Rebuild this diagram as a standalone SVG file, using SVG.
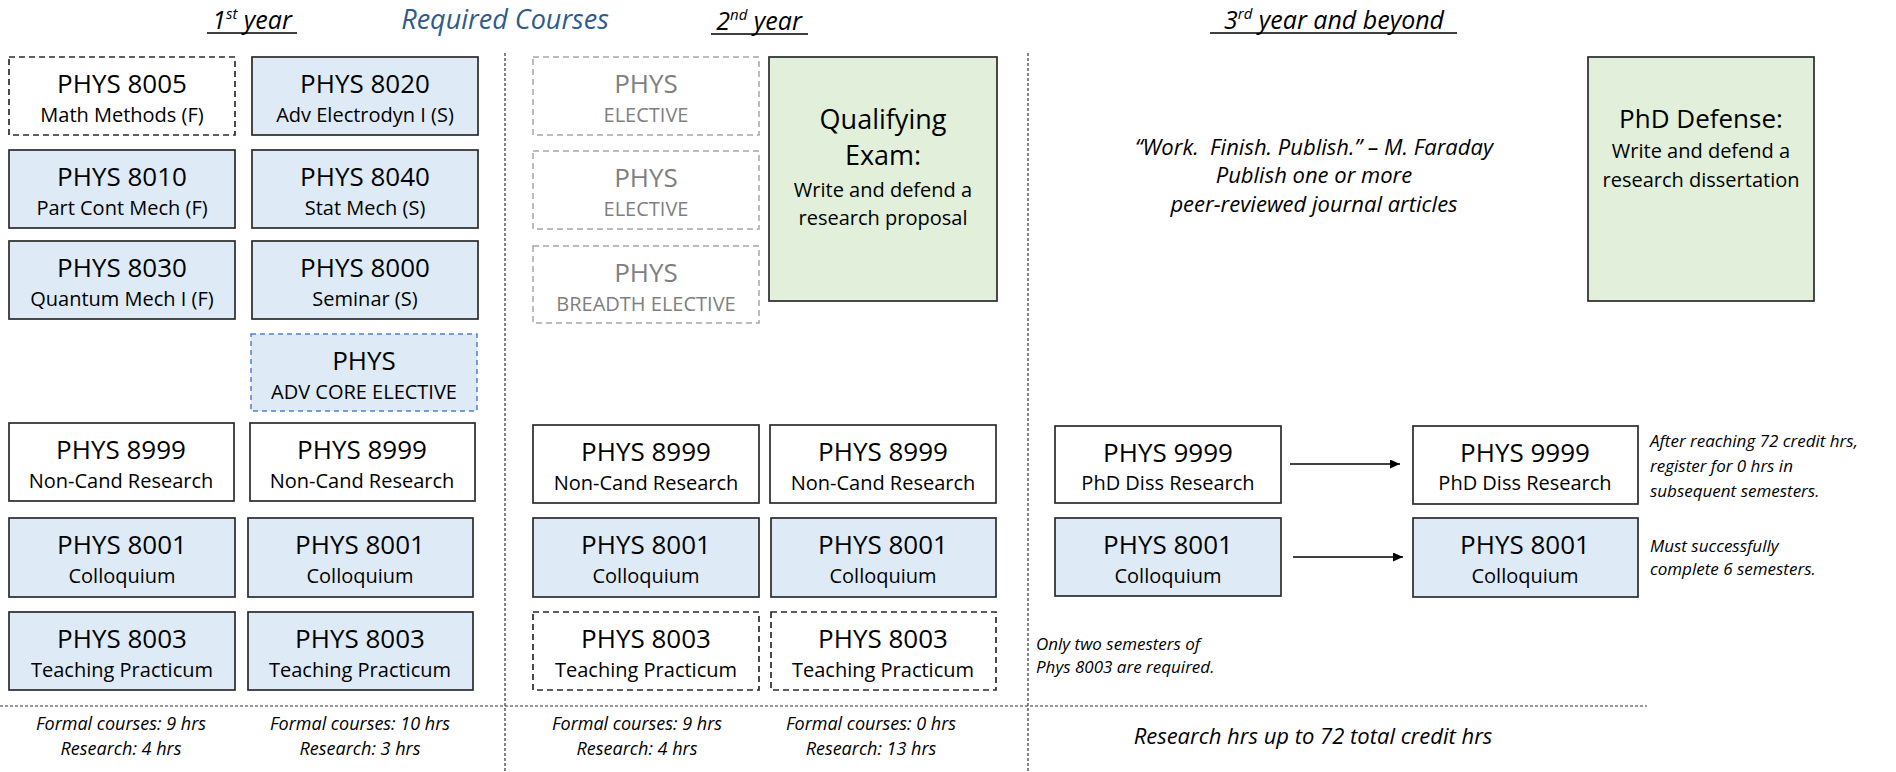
<svg xmlns="http://www.w3.org/2000/svg" width="1896" height="772" viewBox="0 0 1896 772">
<style>
text{font-family:"Open Sans","Noto Sans","Liberation Sans",sans-serif;fill:#000}
.t{font-size:26px;text-anchor:middle}
.q{font-size:27px;text-anchor:middle}
.s{font-size:20px;text-anchor:middle}
.g{fill:#7F7F7F}
.quote{font-size:22px;font-style:italic;text-anchor:middle}
.hd{font-size:25px;font-style:italic;text-anchor:middle}
.rc{font-size:27px;font-style:italic;text-anchor:middle;fill:#2E5A8C}
.sup{font-size:15px}
.note{font-size:17px;font-style:italic}
.bot{font-size:18px;font-style:italic;text-anchor:middle}
.bot2{font-size:22px;font-style:italic;text-anchor:middle}
.box{stroke:#2B2B2B;stroke-width:1.7}
.blue{fill:#DEEBF7}
.white{fill:#fff}
.green{fill:#E2EFDA}
.dash{stroke-dasharray:6 4}
.gdash{fill:#fff;stroke:#A6A6A6;stroke-width:1.5;stroke-dasharray:6 4}
.bdash{fill:#DEEBF7;stroke:#4F81D0;stroke-width:1.5;stroke-dasharray:5 4}
.sep{stroke:#333;stroke-width:1.2;stroke-dasharray:3 2;fill:none}
.ul{stroke:#000;stroke-width:1.6}
.conn{stroke:#000;stroke-width:1.5;fill:none}
</style>
<defs>
<marker id="arr" markerUnits="userSpaceOnUse" markerWidth="11" markerHeight="9" refX="10" refY="4.5" orient="auto">
<path d="M0,0 L10,4.5 L0,9 z" fill="#000"/>
</marker>
</defs>

<g id="headers">
<text class="hd" x="252" y="29">1<tspan class="sup" dy="-10">st</tspan><tspan dy="10"> year</tspan></text>
<line class="ul" x1="207" y1="33" x2="297" y2="33"/>
<text class="rc" x="505" y="29">Required Courses</text>
<text class="hd" x="759" y="30">2<tspan class="sup" dy="-10">nd</tspan><tspan dy="10"> year</tspan></text>
<line class="ul" x1="711" y1="34" x2="808" y2="34"/>
<text class="hd" x="1334" y="29">3<tspan class="sup" dy="-10">rd</tspan><tspan dy="10"> year and beyond</tspan></text>
<line class="ul" x1="1210" y1="33" x2="1457" y2="33"/>
</g>

<g id="separators">
<line class="sep" x1="505" y1="53" x2="505" y2="772"/>
<line class="sep" x1="1028" y1="53" x2="1028" y2="772"/>
<line class="sep" x1="0" y1="706" x2="1647" y2="706"/>
</g>

<g id="phys8005"><rect class="box white dash" x="9" y="57" width="226" height="78"/><text class="t" x="122" y="93">PHYS 8005</text><text class="s" x="122" y="122">Math Methods (F)</text></g>
<g id="phys8020"><rect class="box blue" x="252" y="57" width="226" height="78"/><text class="t" x="365" y="93">PHYS 8020</text><text class="s" x="365" y="122">Adv Electrodyn I (S)</text></g>
<g id="phys8010"><rect class="box blue" x="9" y="150" width="226" height="78"/><text class="t" x="122" y="186">PHYS 8010</text><text class="s" x="122" y="215">Part Cont Mech (F)</text></g>
<g id="phys8040"><rect class="box blue" x="252" y="150" width="226" height="78"/><text class="t" x="365" y="186">PHYS 8040</text><text class="s" x="365" y="215">Stat Mech (S)</text></g>
<g id="phys8030"><rect class="box blue" x="9" y="241" width="226" height="78"/><text class="t" x="122" y="277">PHYS 8030</text><text class="s" x="122" y="306">Quantum Mech I (F)</text></g>
<g id="phys8000"><rect class="box blue" x="252" y="241" width="226" height="78"/><text class="t" x="365" y="277">PHYS 8000</text><text class="s" x="365" y="306">Seminar (S)</text></g>
<g id="advcore"><rect class="bdash" x="251" y="334" width="226" height="77"/><text class="t" x="364" y="370">PHYS</text><text class="s" x="364" y="399">ADV CORE ELECTIVE</text></g>
<g id="y1s1-8999"><rect class="box white" x="9" y="423" width="225" height="78"/><text class="t" x="121" y="459">PHYS 8999</text><text class="s" x="121" y="488">Non-Cand Research</text></g>
<g id="y1s2-8999"><rect class="box white" x="250" y="423" width="225" height="78"/><text class="t" x="362" y="459">PHYS 8999</text><text class="s" x="362" y="488">Non-Cand Research</text></g>
<g id="y1s1-8001"><rect class="box blue" x="9" y="518" width="226" height="79"/><text class="t" x="122" y="554">PHYS 8001</text><text class="s" x="122" y="583">Colloquium</text></g>
<g id="y1s2-8001"><rect class="box blue" x="248" y="518" width="225" height="79"/><text class="t" x="360" y="554">PHYS 8001</text><text class="s" x="360" y="583">Colloquium</text></g>
<g id="y1s1-8003"><rect class="box blue" x="9" y="612" width="226" height="78"/><text class="t" x="122" y="648">PHYS 8003</text><text class="s" x="122" y="677">Teaching Practicum</text></g>
<g id="y1s2-8003"><rect class="box blue" x="248" y="612" width="225" height="78"/><text class="t" x="360" y="648">PHYS 8003</text><text class="s" x="360" y="677">Teaching Practicum</text></g>

<g id="elective1"><rect class="gdash" x="533" y="57" width="226" height="78"/><text class="t g" x="646" y="93">PHYS</text><text class="s g" x="646" y="122">ELECTIVE</text></g>
<g id="elective2"><rect class="gdash" x="533" y="151" width="226" height="78"/><text class="t g" x="646" y="187">PHYS</text><text class="s g" x="646" y="216">ELECTIVE</text></g>
<g id="breadth"><rect class="gdash" x="533" y="246" width="226" height="77"/><text class="t g" x="646" y="282">PHYS</text><text class="s g" x="646" y="311">BREADTH ELECTIVE</text></g>
<g id="qualifying"><rect class="box green" x="769" y="57" width="228" height="244"/><text class="q" x="883" y="129">Qualifying</text><text class="q" x="883" y="165">Exam:</text><text class="s" x="883" y="197">Write and defend a</text><text class="s" x="883" y="225">research proposal</text></g>
<g id="y2s1-8999"><rect class="box white" x="533" y="425" width="226" height="78"/><text class="t" x="646" y="461">PHYS 8999</text><text class="s" x="646" y="490">Non-Cand Research</text></g>
<g id="y2s2-8999"><rect class="box white" x="770" y="425" width="226" height="78"/><text class="t" x="883" y="461">PHYS 8999</text><text class="s" x="883" y="490">Non-Cand Research</text></g>
<g id="y2s1-8001"><rect class="box blue" x="533" y="518" width="226" height="79"/><text class="t" x="646" y="554">PHYS 8001</text><text class="s" x="646" y="583">Colloquium</text></g>
<g id="y2s2-8001"><rect class="box blue" x="771" y="518" width="225" height="79"/><text class="t" x="883" y="554">PHYS 8001</text><text class="s" x="883" y="583">Colloquium</text></g>
<g id="y2s1-8003"><rect class="box white dash" x="533" y="612" width="226" height="78"/><text class="t" x="646" y="648">PHYS 8003</text><text class="s" x="646" y="677">Teaching Practicum</text></g>
<g id="y2s2-8003"><rect class="box white dash" x="771" y="612" width="225" height="78"/><text class="t" x="883" y="648">PHYS 8003</text><text class="s" x="883" y="677">Teaching Practicum</text></g>

<g id="quote">
<text class="quote" x="1314" y="155">“Work.&#160; Finish. Publish.” – M. Faraday</text>
<text class="quote" x="1314" y="183">Publish one or more</text>
<text class="quote" x="1314" y="212">peer-reviewed journal articles</text>
</g>
<g id="phddefense"><rect class="box green" x="1588" y="57" width="226" height="244"/><text class="t" x="1701" y="128">PhD Defense:</text><text class="s" x="1701" y="158">Write and defend a</text><text class="s" x="1701" y="187">research dissertation</text></g>
<g id="y3-9999a"><rect class="box white" x="1055" y="426" width="226" height="77"/><text class="t" x="1168" y="462">PHYS 9999</text><text class="s" x="1168" y="490">PhD Diss Research</text></g>
<g id="y3-9999b"><rect class="box white" x="1413" y="426" width="225" height="78"/><text class="t" x="1525" y="462">PHYS 9999</text><text class="s" x="1525" y="490">PhD Diss Research</text></g>
<g id="y3-8001a"><rect class="box blue" x="1055" y="518" width="226" height="78"/><text class="t" x="1168" y="554">PHYS 8001</text><text class="s" x="1168" y="583">Colloquium</text></g>
<g id="y3-8001b"><rect class="box blue" x="1413" y="518" width="225" height="79"/><text class="t" x="1525" y="554">PHYS 8001</text><text class="s" x="1525" y="583">Colloquium</text></g>

<g id="connectors">
<line class="conn" x1="1290" y1="464" x2="1400" y2="464" marker-end="url(#arr)"/>
<line class="conn" x1="1293" y1="557" x2="1403" y2="557" marker-end="url(#arr)"/>
</g>

<g id="notes">
<text class="note" x="1650" y="447">After reaching 72 credit hrs,</text>
<text class="note" x="1650" y="472">register for 0 hrs in</text>
<text class="note" x="1650" y="497">subsequent semesters.</text>
<text class="note" x="1650" y="552">Must successfully</text>
<text class="note" x="1650" y="575">complete 6 semesters.</text>
<text class="note" x="1036" y="650">Only two semesters of</text>
<text class="note" x="1036" y="673">Phys 8003 are required.</text>
</g>

<g id="totals">
<text class="bot" x="121" y="730">Formal courses: 9 hrs</text>
<text class="bot" x="121" y="755">Research: 4 hrs</text>
<text class="bot" x="360" y="730">Formal courses: 10 hrs</text>
<text class="bot" x="360" y="755">Research: 3 hrs</text>
<text class="bot" x="637" y="730">Formal courses: 9 hrs</text>
<text class="bot" x="637" y="755">Research: 4 hrs</text>
<text class="bot" x="871" y="730">Formal courses: 0 hrs</text>
<text class="bot" x="871" y="755">Research: 13 hrs</text>
<text class="bot2" x="1313" y="744">Research hrs up to 72 total credit hrs</text>
</g>
</svg>
